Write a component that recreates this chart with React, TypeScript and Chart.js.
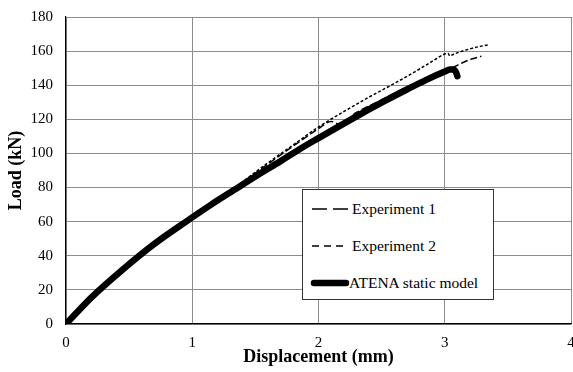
import React, { useEffect, useRef } from "react";
import { Chart, registerables } from "chart.js";

Chart.register(...registerables);

// ---- data ----
const xTicks = [0, 1, 2, 3, 4];
const yTicks = [0, 20, 40, 60, 80, 100, 120, 140, 160, 180];

const seriesNames = ["Experiment 1", "Experiment 2", "ATENA static model"];

const exp1X = [0, 0.2, 0.45, 0.7, 0.96, 1.2, 1.4, 1.6, 1.8, 2.0, 2.1, 2.16, 2.3, 2.5, 2.7, 2.9, 3.0, 3.05, 3.15, 3.22, 3.29];
const exp1Y = [0, 15.5, 32, 47, 60.5, 72, 83, 93.8, 104.3, 114.5, 118.8, 117.3, 124, 131.5, 139, 146, 149, 150, 153.5, 155.5, 157];

const exp2X = [0, 0.2, 0.45, 0.7, 0.96, 1.2, 1.4, 1.6, 1.8, 2.0, 2.2, 2.4, 2.6, 2.8, 2.9, 3.0, 3.025, 3.04, 3.07, 3.12, 3.2, 3.27, 3.34];
const exp2Y = [0, 15.5, 32, 47, 60.5, 72.5, 83.5, 94.5, 105, 115.5, 124.5, 133, 141, 149.5, 154, 158.3, 158.8, 157.2, 158.2, 159.5, 161.3, 162.6, 163.6];

const atenaX = [0, 0.2, 0.45, 0.7, 0.96, 1.15, 1.33, 1.5, 1.7, 1.85, 2.0, 2.2, 2.4, 2.53, 2.7, 2.85, 3.0, 3.04, 3.07, 3.09, 3.1];
const atenaY = [0, 15.5, 32, 47, 60.5, 70, 78.5, 86.5, 95.5, 102.5, 109, 117.5, 125.8, 131, 137.5, 143, 148, 149.2, 149.2, 147.5, 145.3];

const FONT = "'Liberation Serif', 'DejaVu Serif', 'Times New Roman', serif";

function pts(xs: number[], ys: number[]) {
  return xs.map((x, i) => ({ x, y: ys[i] }));
}

function LegendSample({ kind }: { kind: number }) {
  if (kind === 0)
    return (
      <svg width="38" height="10" style={{ display: "block" }}>
        <line x1="1" y1="5" x2="37" y2="5" stroke="#000" strokeWidth="1.6" strokeDasharray="15 6" />
      </svg>
    );
  if (kind === 1)
    return (
      <svg width="38" height="10" style={{ display: "block" }}>
        <line x1="1" y1="5" x2="37" y2="5" stroke="#000" strokeWidth="1.6" strokeDasharray="7 5" />
      </svg>
    );
  return (
    <svg width="40" height="10" style={{ display: "block" }}>
      <line x1="4" y1="5" x2="36" y2="5" stroke="#000" strokeWidth="6.5" strokeLinecap="round" />
    </svg>
  );
}

export default function App() {
  const canvasRef = useRef<HTMLCanvasElement | null>(null);

  useEffect(() => {
    document.body.style.margin = "0";
    const canvas = canvasRef.current;
    if (!canvas) return;
    const chart = new Chart(canvas, {
      type: "line",
      data: {
        datasets: [
          {
            label: seriesNames[0],
            data: pts(exp1X, exp1Y),
            borderColor: "#000",
            borderWidth: 1.5,
            borderDash: [7, 3],
            pointRadius: 0,
            cubicInterpolationMode: "monotone",
            order: 2,
          },
          {
            label: seriesNames[1],
            data: pts(exp2X, exp2Y),
            borderColor: "#000",
            borderWidth: 1.5,
            borderDash: [3, 2],
            pointRadius: 0,
            cubicInterpolationMode: "monotone",
            order: 1,
          },
          {
            label: seriesNames[2],
            data: pts(atenaX, atenaY),
            borderColor: "#000",
            borderWidth: 6.5,
            borderCapStyle: "round",
            borderJoinStyle: "round",
            pointRadius: 0,
            cubicInterpolationMode: "monotone",
            order: 0,
          },
        ],
      },
      options: {
        animation: false,
        responsive: true,
        maintainAspectRatio: false,
        layout: { padding: { top: 17, right: 2, left: 0, bottom: 0 } },
        plugins: { legend: { display: false }, tooltip: { enabled: false } },
        scales: {
          x: {
            type: "linear",
            min: xTicks[0],
            max: xTicks[xTicks.length - 1],
            afterBuildTicks: (s: any) => {
              s.ticks = xTicks.map((v) => ({ value: v }));
            },
            ticks: { font: { family: FONT, size: 15 }, color: "#000", padding: 10 },
            grid: { color: "#8c8c8c", drawTicks: false, lineWidth: 1 },
            border: { color: "#000", width: 1.2 },
            title: {
              display: true,
              text: "Displacement (mm)",
              color: "#000",
              font: { family: FONT, size: 18, weight: "bold" },
              padding: { top: 0, bottom: 4 },
            },
            afterFit: (s: any) => {
              s.height = 48;
              s.paddingLeft = 0;
              s.paddingRight = 0;
            },
          },
          y: {
            type: "linear",
            min: yTicks[0],
            max: yTicks[yTicks.length - 1],
            afterBuildTicks: (s: any) => {
              s.ticks = yTicks.map((v) => ({ value: v }));
            },
            ticks: { font: { family: FONT, size: 15 }, color: "#000", padding: 13 },
            grid: { color: "#8c8c8c", drawTicks: false, lineWidth: 1 },
            border: { color: "#000", width: 1.2 },
            title: {
              display: true,
              text: "Load (kN)",
              color: "#000",
              font: { family: FONT, size: 18, weight: "bold" },
              padding: { top: 6, bottom: 0 },
            },
            afterFit: (s: any) => {
              s.width = 66;
              s.paddingTop = 0;
              s.paddingBottom = 0;
            },
          },
        },
      },
    } as any);
    return () => chart.destroy();
  }, []);

  const rowTops = [18.7, 56, 92.7];

  return (
    <div style={{ position: "relative", width: 573, height: 372, background: "#fff" }}>
      <canvas ref={canvasRef} />
      <div
        style={{
          position: "absolute",
          left: 302,
          top: 189,
          width: 192,
          height: 111,
          boxSizing: "border-box",
          border: "1px solid #333",
          background: "#fff",
          fontFamily: FONT,
          fontSize: 15.5,
          color: "#000",
        }}
      >
        {seriesNames.map((name, i) => (
          <div
            key={name}
            style={{
              position: "absolute",
              left: 8,
              top: rowTops[i] - 10,
              height: 20,
              display: "flex",
              alignItems: "center",
              whiteSpace: "nowrap",
            }}
          >
            <div style={{ width: 40, marginLeft: i === 2 ? -1 : 0 }}>
              <LegendSample kind={i} />
            </div>
            <span style={{ marginLeft: i === 2 ? -1 : 1 }}>{name}</span>
          </div>
        ))}
      </div>
    </div>
  );
}
